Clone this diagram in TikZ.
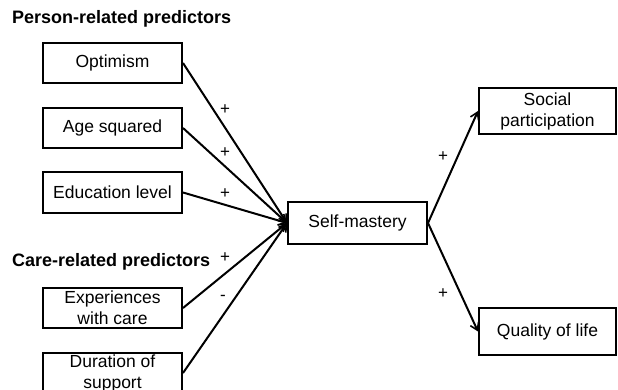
\documentclass[tikz,border=0pt]{standalone}
\usepackage{fontspec}
\setmainfont{Liberation Sans}
\usetikzlibrary{arrows.meta}
\begin{document}
\begin{tikzpicture}[x=1pt,y=-1pt,
  box/.style={draw=black,line width=2pt,fill=white,inner sep=0pt,align=center,
    font=\fontsize{17.5}{21}\selectfont},
  conn/.style={line width=2pt,-{Straight Barb[length=7pt,width=9pt,line width=1.6pt]}},
  sign/.style={font=\fontsize{17}{17}\selectfont,inner sep=0pt},
  hdr/.style={font=\fontsize{18}{21}\selectfont\bfseries,inner sep=0pt,anchor=west}]
\useasboundingbox (0,0) rectangle (618,390);
\clip (0,0) rectangle (618,390);
\node[hdr] (h1) at (12,19) {Person-related predictors};
\node[hdr] (h2) at (12,262) {Care-related predictors};
\node[box,minimum width=139pt,minimum height=40pt] (opt) at (112.5,63) {Optimism};
\node[box,minimum width=139pt,minimum height=40pt] (age) at (112.5,128) {Age squared};
\node[box,minimum width=139pt,minimum height=41pt] (edu) at (112.5,192.5) {Education level};
\node[box,minimum width=139pt,minimum height=40pt] (exp) at (112.5,308) {Experiences\\with care};
\node[box,minimum width=139pt,minimum height=40pt] (dur) at (112.5,373) {Duration of\\support};
\node[box,minimum width=139pt,minimum height=42pt] (sm) at (357.5,223) {Self-mastery};
\node[box,minimum width=137pt,minimum height=46pt] (soc) at (547.5,111) {Social\\participation};
\node[box,minimum width=137pt,minimum height=47pt] (qol) at (547.5,331.5) {Quality of life};
\foreach \n in {opt,age,edu,exp,dur} \draw[conn] (\n.east) -- (sm.west);
\draw[conn] (sm.east) -- (soc.west);
\draw[conn] (sm.east) -- (qol.west);
\node[sign] (s1) at (225,110) {+};
\node[sign] (s2) at (225,153) {+};
\node[sign] (s3) at (225,194) {+};
\node[sign] (s4) at (225,258) {+};
\node[sign] (s5) at (223,298) {-};
\node[sign] (s6) at (443,157) {+};
\node[sign] (s7) at (443,294) {+};
\end{tikzpicture}
\end{document}
